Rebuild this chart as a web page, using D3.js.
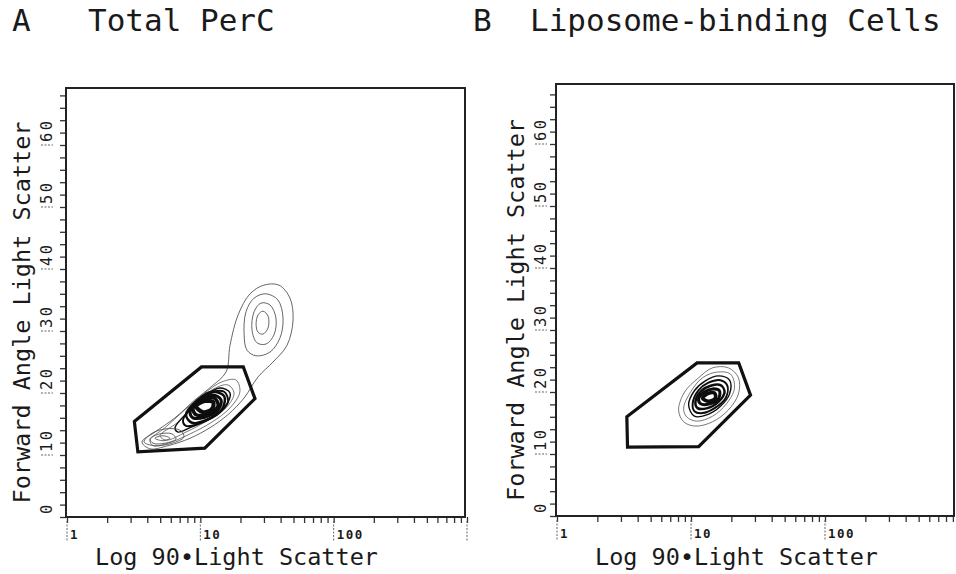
<!DOCTYPE html>
<html>
<head>
<meta charset="utf-8">
<script src="https://cdn.jsdelivr.net/npm/d3@7"></script>
<style>
  body { margin: 0; background: #fff; }
  text { font-family: "DejaVu Sans Mono", "Liberation Mono", monospace; fill: #1a1a1a; }
</style>
</head>
<body>
<script>
// tick labels
const xTickLabels = [1, 10, 100];
const xMajor = [1, 10, 100, 1000];
const yTickLabels = [0, 10, 20, 30, 40, 50, 60];

// gate polygons [log 90 scatter, forward scatter]
const gateA = [[10.2, 24.2], [21.0, 24.2], [25.7, 19.1], [10.8, 11.1], [3.4, 10.5], [3.2, 15.4]];
const gateB = [[11.1, 24.7], [22.7, 24.7], [27.8, 19.5], [11.4, 11.2], [3.36, 11.1], [3.32, 16.0]];

// contour rings, outermost first
const outerRingA = [[3.65, 12.1], [4.57, 13.7], [6.46, 16.0], [9.12, 18.9], [12.2, 21.1], [15.6, 23.4], [16.7, 27.7],
  [19.2, 32.6], [23.6, 36.0], [30.0, 37.4], [38.9, 37.4], [47.0, 35.3], [49.6, 31.8], [44.7, 27.7], [35.1, 25.0],
  [27.1, 22.6], [21.3, 19.2], [16.1, 16.5], [11.8, 14.4], [8.37, 12.7], [5.72, 11.5], [4.19, 11.0]];

const upperRingsA = [
  [[21.3, 29.4], [22.0, 33.1], [25.3, 35.3], [31.1, 36.0], [38.2, 35.0], [41.7, 32.1], [39.6, 28.9], [33.3, 26.6], [26.2, 26.0], [22.4, 26.9]],
  [[24.4, 30.2], [25.3, 33.1], [28.5, 34.5], [33.3, 34.2], [36.9, 32.1], [35.7, 29.4], [31.1, 27.9], [26.6, 28.1]],
  [[26.2, 31.0], [27.1, 32.6], [29.5, 33.2], [32.2, 32.4], [32.2, 30.5], [29.5, 29.5], [27.1, 29.8]]
];

const mainRingsA = [
  [[4.19, 12.4], [5.43, 14.4], [7.67, 17.3], [10.8, 20.0], [14.5, 21.8], [18.5, 22.1], [19.8, 20.2], [16.7, 17.6], [12.2, 15.3], [8.37, 13.4], [5.72, 11.9], [4.42, 11.5]],
  [[4.98, 13.1], [6.80, 15.3], [9.28, 18.2], [12.2, 20.5], [16.1, 21.3], [17.9, 20.0], [15.6, 17.6], [11.4, 15.6], [7.81, 13.7], [5.53, 12.4]],
  [[6.46, 14.4], [8.37, 17.3], [10.8, 19.5], [14.0, 20.8], [16.7, 20.0], [15.3, 17.7], [11.4, 15.8], [8.37, 14.4], [6.80, 13.7]],
  [[7.41, 15.6], [9.12, 18.2], [11.8, 20.0], [15.1, 20.2], [16.1, 18.5], [13.1, 16.5], [9.61, 15.0], [7.81, 14.7]],
  [[7.81, 16.5], [9.61, 18.9], [12.2, 20.2], [15.1, 19.5], [14.5, 17.3], [11.0, 15.6], [8.66, 15.2]],
  [[8.37, 16.9], [9.94, 18.9], [12.2, 19.7], [14.3, 18.9], [13.6, 17.3], [10.8, 16.1], [8.81, 16.0]],
  [[8.81, 17.6], [10.5, 19.0], [12.7, 19.2], [13.6, 17.9], [11.4, 16.6], [9.28, 16.5]],
  [[9.28, 17.9], [10.8, 18.7], [12.5, 18.5], [12.2, 17.4], [10.5, 16.9]]
];

const tailRingsA = [
  [[3.78, 12.1], [4.34, 13.5], [5.43, 14.2], [7.04, 14.0], [7.54, 12.9], [6.13, 11.9], [4.57, 11.5]],
  [[4.19, 12.6], [4.98, 13.4], [6.13, 13.4], [6.57, 12.6], [5.43, 11.9], [4.42, 11.9]],
  [[4.57, 12.7], [5.25, 13.1], [5.92, 12.7], [5.25, 12.3]]
];

const ringsB = [
  [[8.08, 17.1], [8.96, 20.0], [11.4, 22.3], [14.5, 23.9], [19.0, 23.9], [22.6, 22.3], [22.6, 19.7], [19.0, 17.1], [14.5, 15.2], [10.8, 14.5], [8.81, 15.2]],
  [[8.81, 17.4], [9.93, 20.0], [12.2, 22.3], [15.5, 23.2], [19.7, 22.9], [21.1, 20.6], [18.4, 18.1], [14.5, 16.1], [11.0, 15.3], [9.27, 16.0]],
  [[9.60, 17.9], [10.6, 20.2], [12.8, 21.8], [16.0, 22.6], [19.4, 21.9], [19.4, 19.7], [16.6, 17.7], [13.1, 16.3], [10.6, 16.1]],
  [[10.3, 18.2], [11.4, 20.3], [13.5, 21.5], [16.6, 21.9], [18.7, 21.0], [18.1, 19.0], [15.0, 17.4], [12.2, 16.6], [10.6, 16.9]],
  [[10.8, 18.5], [12.0, 20.2], [14.0, 21.0], [16.6, 21.1], [17.8, 20.0], [16.0, 18.4], [13.3, 17.4], [11.2, 17.4]],
  [[11.4, 18.9], [12.6, 20.0], [14.5, 20.5], [16.3, 20.2], [16.0, 18.9], [13.8, 18.1], [11.8, 18.1]],
  [[12.2, 19.0], [13.5, 19.8], [15.0, 19.8], [15.2, 19.0], [13.5, 18.5]]
];

const panels = [
  { letter: "A", title: "Total PerC", gate: gateA,
    groups: [[outerRingA], upperRingsA, mainRingsA, tailRingsA],
    left: 66, right: 465, top: 88, bottom: 517, xEnd: 467,
    letterX: 12, titleX: 88, yLabelX: 22, tickLabelX: 47, xLabelX: 95 },
  { letter: "B", title: "Liposome-binding Cells", gate: gateB,
    groups: [ringsB],
    left: 556, right: 954, top: 84, bottom: 516, xEnd: 959,
    letterX: 473, titleX: 530, yLabelX: 516, tickLabelX: 541, xLabelX: 595 }
];

const svg = d3.select("body").append("svg")
  .attr("width", 956)
  .attr("height", 574);

panels.forEach(p => {
  const x = d3.scaleLog().domain([1, 1000]).range([p.left + 1, p.xEnd]);
  const y = d3.scaleLinear().domain([0, 60]).range([p.bottom, p.bottom - 372]);
  const g = svg.append("g");

  // titles
  g.append("text").attr("x", p.letterX).attr("y", 31).attr("font-size", 31).text(p.letter);
  g.append("text").attr("x", p.titleX).attr("y", 31).attr("font-size", 31).text(p.title);

  // minor ticks via d3 axes
  const xMinor = [];
  [1, 10, 100].forEach(d => d3.range(2, 10).forEach(m => xMinor.push(d * m)));
  const xAxis = g.append("g")
    .attr("transform", `translate(0,${p.bottom})`)
    .call(d3.axisBottom(x).tickValues(xMinor.concat(xMajor)).tickSize(6).tickFormat(""));
  xAxis.select(".domain").remove();
  xAxis.selectAll(".tick line").attr("stroke", "#333").attr("stroke-width", 1.3);

  const yAxis = g.append("g")
    .attr("transform", `translate(${p.left},0)`)
    .call(d3.axisLeft(y).tickValues(d3.range(0, 69, 2)).tickSize(6).tickFormat(""));
  yAxis.select(".domain").remove();
  yAxis.selectAll(".tick line").attr("stroke", "#333").attr("stroke-width", 1.3);

  // major x dotted ticks + labels
  g.selectAll(".xmaj").data(xMajor).enter().append("line")
    .attr("x1", d => x(d)).attr("x2", d => x(d))
    .attr("y1", p.bottom + 4).attr("y2", p.bottom + 24)
    .attr("stroke", "#666").attr("stroke-width", 1).attr("stroke-dasharray", "2,1.5");
  g.selectAll(".xlab").data(xTickLabels).enter().append("text")
    .attr("x", d => x(d) + 3).attr("y", p.bottom + 22)
    .attr("font-size", 12.5).attr("font-weight", "bold").attr("letter-spacing", 1.5)
    .text(d => d);

  // y labels, rotated
  g.selectAll(".ymaj").data(yTickLabels.slice(1)).enter().append("line")
    .attr("x1", p.tickLabelX - 6).attr("x2", p.tickLabelX + 6)
    .attr("y1", d => y(d)).attr("y2", d => y(d))
    .attr("stroke", "#666").attr("stroke-width", 1.2).attr("stroke-dasharray", "2,1.5");
  g.selectAll(".ylab").data(yTickLabels).enter().append("text")
    .attr("transform", d => `translate(${p.tickLabelX},${y(d) - 3}) rotate(-90)`)
    .attr("dominant-baseline", "central")
    .attr("font-size", 15.5).attr("letter-spacing", 2.5).attr("fill", "#3a3a3a")
    .text(d => d);

  // axis titles
  g.append("text")
    .attr("x", p.xLabelX).attr("y", 565)
    .attr("font-size", 23.5)
    .text("Log 90\u2022Light Scatter");
  g.append("text")
    .attr("transform", `translate(${p.yLabelX},${(p.top + p.bottom) / 2 + 10}) rotate(-90)`)
    .attr("text-anchor", "middle").attr("dominant-baseline", "central")
    .attr("font-size", 23.5)
    .text("Forward Angle Light Scatter");

  // frame
  g.append("rect")
    .attr("x", p.left).attr("y", p.top)
    .attr("width", p.right - p.left).attr("height", p.bottom - p.top)
    .attr("fill", "none").attr("stroke", "#222").attr("stroke-width", 2);

  // contours: inner rings of the dense groups drawn heavier so the core reads dark
  const ring = d3.line().x(d => x(d[0])).y(d => y(d[1])).curve(d3.curveCatmullRomClosed.alpha(0.5));
  p.groups.forEach(grp => {
    const dense = grp.length > 3;
    g.selectAll(null).data(grp).enter().append("path")
      .attr("d", ring)
      .attr("fill", "none")
      .attr("stroke", (d, i) => dense && i > 1 ? "#0d0d0d" : "#555")
      .attr("stroke-width", (d, i) => dense ? (i < 2 ? 0.8 : 1.4 + (i - 2) * 0.55) : 0.9)
      .attr("stroke-linejoin", "round");
  });

  // gate
  g.append("path")
    .datum(p.gate)
    .attr("d", d3.line().x(d => x(d[0])).y(d => y(d[1])).curve(d3.curveLinearClosed))
    .attr("fill", "none").attr("stroke", "#111").attr("stroke-width", 3.2)
    .attr("stroke-linejoin", "miter");
});
</script>
</body>
</html>
